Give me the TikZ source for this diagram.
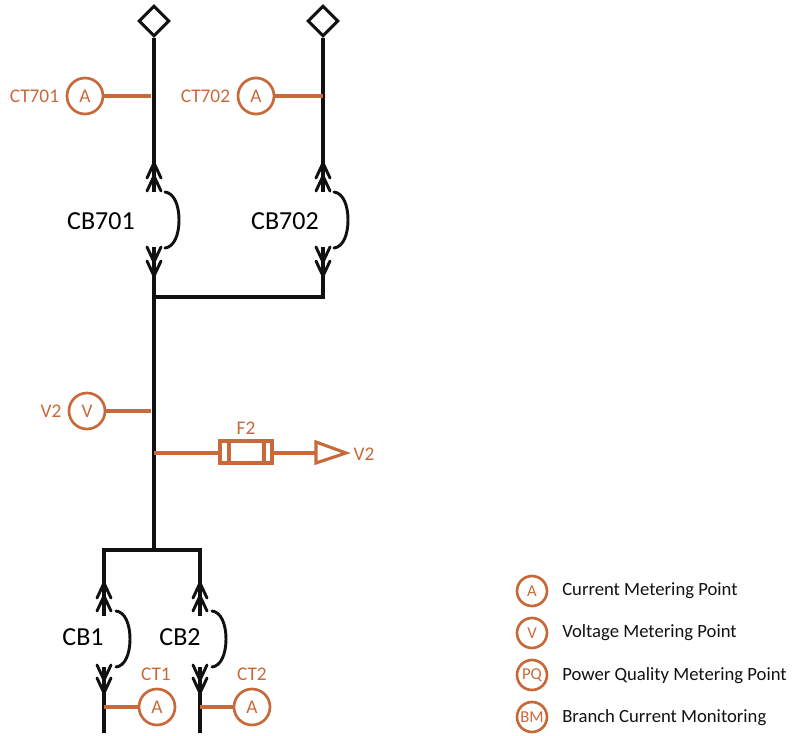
\documentclass[tikz,border=0pt]{standalone}
\usepackage{fontspec}
\setmainfont{Carlito}
\usetikzlibrary{shapes.geometric}
\definecolor{meter}{HTML}{C8693A}
\definecolor{ink}{HTML}{111111}
\tikzset{
  x=0.75pt,y=-0.75pt,
  bus/.style={draw=ink,line width=2.3pt},
  curve/.style={draw=ink,line width=2.2pt},
  tap/.style={draw=meter,line width=2.3pt},
  meterc/.style={circle,draw=meter,line width=2pt,fill=white,minimum size=27pt,inner sep=0pt,text=meter,font=\fontsize{14.5}{15}\selectfont},
  legc/.style={circle,draw=meter,line width=2pt,minimum size=22.5pt,inner sep=0pt,text=meter,font=\fontsize{12.5}{13}\selectfont},
  lab/.style={inner sep=0pt,text=meter,font=\fontsize{14.5}{15}\selectfont},
  cblab/.style={inner sep=0pt,text=black,font=\fontsize{19.5}{20}\selectfont},
  legt/.style={inner sep=0pt,anchor=west,text=ink,font=\fontsize{14}{15}\selectfont},
  term/.style={diamond,draw=ink,line width=2.2pt,fill=white,minimum size=23pt,inner sep=0pt,aspect=1},
}
\newcommand{\chevup}[1]{\draw[curve,line cap=round,line join=miter] ([shift={(-7,15)}]#1) -- (#1) -- ([shift={(7,15)}]#1);}
\newcommand{\chevdn}[1]{\draw[curve,line cap=round,line join=miter] ([shift={(-7,-15)}]#1) -- (#1) -- ([shift={(7,-15)}]#1);}
\begin{document}
\begin{tikzpicture}
\useasboundingbox (0,0) rectangle (797,736);
% upper feeders
\node[term] (d1) at (154,21) {};
\node[term] (d2) at (323,21) {};
\coordinate (t1) at (154,96);
\coordinate (t2) at (323,96);
\coordinate (b1up) at (154,192);
\coordinate (b2up) at (323,192);
\coordinate (b1dn) at (154,247);
\coordinate (b2dn) at (323,247);
\coordinate (j1) at (154,297);
\coordinate (j2) at (323,297);
\coordinate (vt) at (154,411);
\coordinate (ft) at (154,453);
\coordinate (j3) at (154,550);
\coordinate (j4) at (104,550);
\coordinate (j5) at (200,550);
\draw[bus] (d1.south) -- (b1up);
\draw[bus] (d2.south) -- (b2up);
\draw[bus] (b1dn) -- (j1) -- (j3);
\draw[bus] (b2dn) -- (j2) -- (j1);
% breaker contacts
\foreach \n/\x in {a/154,b/323}{
  \coordinate (\n u1) at (\x,163);
  \coordinate (\n u2) at (\x,176);
  \coordinate (\n d1) at (\x,262);
  \coordinate (\n d2) at (\x,276);
  \chevup{\n u1}
  \chevup{\n u2}
  \chevdn{\n d1}
  \chevdn{\n d2}
  \coordinate (\n s) at (\x+11,192);
  \coordinate (\n e) at (\x+11,248);
  \draw[curve,line cap=round] (\n s) .. controls (\x+20,193) and (\x+25,205) .. (\x+25,220) .. controls (\x+25,235) and (\x+20,247) .. (\n e);
}
\node[cblab] (cb701) at (101,221) {CB701};
\node[cblab] (cb702) at (285,221) {CB702};
% lower feeders
\coordinate (c1up) at (104,616);
\coordinate (c2up) at (200,616);
\coordinate (c1dn) at (104,667);
\coordinate (c2dn) at (200,667);
\coordinate (e1) at (104,733);
\coordinate (e2) at (200,733);
\coordinate (t3) at (104,707);
\coordinate (t4) at (200,707);
\draw[bus] (j3) -- (j4) -- (c1up);
\draw[bus] (j3) -- (j5) -- (c2up);
\draw[bus] (c1dn) -- (e1);
\draw[bus] (c2dn) -- (e2);
\foreach \n/\x in {c/104,d/200}{
  \coordinate (\n u1) at (\x,583);
  \coordinate (\n u2) at (\x,596);
  \coordinate (\n d1) at (\x,680);
  \coordinate (\n d2) at (\x,693);
  \chevup{\n u1}
  \chevup{\n u2}
  \chevdn{\n d1}
  \chevdn{\n d2}
  \coordinate (\n s) at (\x+12,611);
  \coordinate (\n e) at (\x+12,667);
  \draw[curve,line cap=round] (\n s) .. controls (\x+21,612) and (\x+26,624) .. (\x+26,639) .. controls (\x+26,654) and (\x+21,666) .. (\n e);
}
\node[cblab] (cb1) at (83,637) {CB1};
\node[cblab] (cb2) at (180,637) {CB2};
% meters
\node[meterc] (m1) at (85,96) {A};
\node[meterc] (m2) at (256,96) {A};
\node[meterc] (m3) at (87,411) {V};
\node[meterc] (m4) at (157,707) {A};
\node[meterc] (m5) at (252,707) {A};
\draw[tap] (m1.east) -- ([xshift=-2]t1);
\draw[tap] (m2.east) -- (t2);
\draw[tap] (m3.east) -- ([xshift=-2]vt);
\draw[tap] (t3) -- (m4.west);
\draw[tap] (t4) -- (m5.west);
\node[lab] (l1) at (34.5,96) {CT701};
\node[lab] (l2) at (205.5,96) {CT702};
\node[lab] (l3) at (51,411) {V2};
\node[lab] (l4) at (156,674) {CT1};
\node[lab] (l5) at (252,674) {CT2};
% fuse and output
\node[draw=meter,line width=2.3pt,minimum width=39pt,minimum height=16.5pt,inner sep=0pt] (fuse) at (246,452) {};
\coordinate (f1) at (229,441);
\coordinate (f2) at (229,463);
\coordinate (f3) at (264,441);
\coordinate (f4) at (264,463);
\draw[tap] (f1) -- (f2);
\draw[tap] (f3) -- (f4);
\node[lab] (lf) at (246,428) {F2};
\coordinate (a1) at (316,442);
\coordinate (a2) at (346,453);
\coordinate (a3) at (316,463);
\coordinate (a0) at (316,453);
\draw[tap] (ft) -- (fuse.west |- ft);
\draw[tap] (fuse.east |- ft) -- (a0);
\draw[tap,line join=miter] (a1) -- (a2) -- (a3) -- cycle;
\node[lab] (lv) at (364,454) {V2};
% legend
\node[legc] (k1) at (532,591) {A};
\node[legc] (k2) at (532,633) {V};
\node[legc] (k3) at (532,675) {PQ};
\node[legc] (k4) at (532,717) {BM};
\node[legt] (kt1) at (562,591) {Current Metering Point};
\node[legt] (kt2) at (562,633) {Voltage Metering Point};
\node[legt] (kt3) at (562,675.5) {Power Quality Metering Point};
\node[legt] (kt4) at (562,717.5) {Branch Current Monitoring};
\end{tikzpicture}
\end{document}
